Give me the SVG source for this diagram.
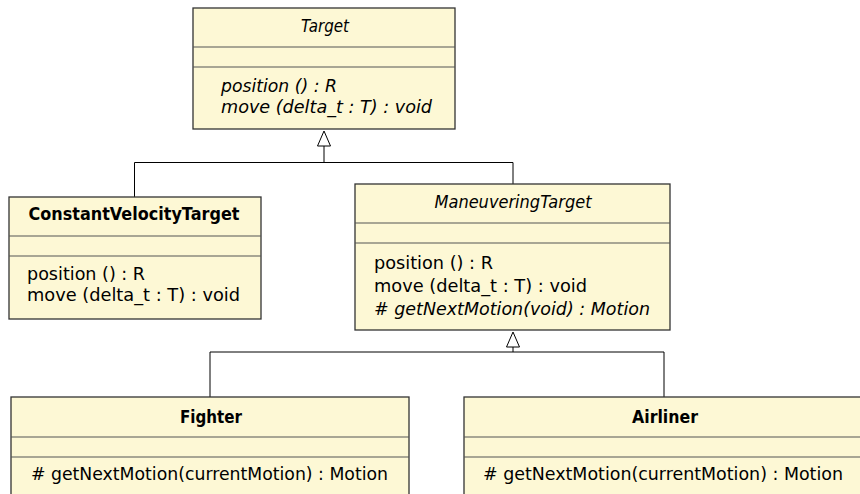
<svg xmlns="http://www.w3.org/2000/svg" width="860" height="494" viewBox="0 0 860 494">
<style>
.box{fill:#fdf8d5;stroke:#333;stroke-width:1.3}
.div{stroke:#555;stroke-width:1.2}
.t{font-family:"DejaVu Sans","Liberation Sans",sans-serif;font-size:17.5px;fill:#000}
.b{font-weight:bold}
.i{font-style:italic}
.c{text-anchor:middle}
.conn{fill:none;stroke:#000;stroke-width:1}
.tri{fill:#fff;stroke:#000;stroke-width:1}
</style>
<rect width="860" height="494" fill="#fff"/>
<g id="connectors">
<path class="conn" d="M324,146V162.5M134.5,197V162.5H513V184"/>
<polygon class="tri" points="324,131 317.5,146 330.5,146"/>
<path class="conn" d="M513,347V352M210,397V352H664V397"/>
<polygon class="tri" points="513,332 506.5,347 519.5,347"/>
</g>
<g id="Target">
<rect class="box" x="193" y="8" width="262" height="121"/>
<line class="div" x1="193" y1="47" x2="455" y2="47"/>
<line class="div" x1="193" y1="67" x2="455" y2="67"/>
<text class="t i c" x="325" y="32" textLength="48" lengthAdjust="spacingAndGlyphs">Target</text>
<text class="t i" x="221" y="92" textLength="116" lengthAdjust="spacingAndGlyphs">position () : R</text>
<text class="t i" x="221" y="113" textLength="211" lengthAdjust="spacingAndGlyphs">move (delta_t : T) : void</text>
</g>
<g id="ConstantVelocityTarget">
<rect class="box" x="9" y="197" width="252" height="122"/>
<line class="div" x1="9" y1="236" x2="261" y2="236"/>
<line class="div" x1="9" y1="256" x2="261" y2="256"/>
<text class="t b c" x="134" y="220" textLength="211" lengthAdjust="spacingAndGlyphs">ConstantVelocityTarget</text>
<text class="t" x="27" y="280" textLength="118" lengthAdjust="spacingAndGlyphs">position () : R</text>
<text class="t" x="27" y="301" textLength="213" lengthAdjust="spacingAndGlyphs">move (delta_t : T) : void</text>
</g>
<g id="ManeuveringTarget">
<rect class="box" x="355" y="184" width="315" height="146"/>
<line class="div" x1="355" y1="223" x2="670" y2="223"/>
<line class="div" x1="355" y1="243" x2="670" y2="243"/>
<text class="t i c" x="513" y="208" textLength="157" lengthAdjust="spacingAndGlyphs">ManeuveringTarget</text>
<text class="t" x="374" y="269" textLength="119" lengthAdjust="spacingAndGlyphs">position () : R</text>
<text class="t" x="374" y="292" textLength="213" lengthAdjust="spacingAndGlyphs">move (delta_t : T) : void</text>
<text class="t i" x="374" y="315" textLength="276" lengthAdjust="spacingAndGlyphs"># getNextMotion(void) : Motion</text>
</g>
<g id="Fighter">
<rect class="box" x="11" y="397" width="398" height="110"/>
<line class="div" x1="11" y1="437" x2="409" y2="437"/>
<line class="div" x1="11" y1="457" x2="409" y2="457"/>
<text class="t b c" x="211" y="423" textLength="62" lengthAdjust="spacingAndGlyphs">Fighter</text>
<text class="t" x="31" y="480" textLength="357" lengthAdjust="spacingAndGlyphs"># getNextMotion(currentMotion) : Motion</text>
</g>
<g id="Airliner">
<rect class="box" x="464" y="397" width="398" height="110"/>
<line class="div" x1="464" y1="437" x2="862" y2="437"/>
<line class="div" x1="464" y1="457" x2="862" y2="457"/>
<text class="t b c" x="665" y="423" textLength="66" lengthAdjust="spacingAndGlyphs">Airliner</text>
<text class="t" x="483" y="480" textLength="360" lengthAdjust="spacingAndGlyphs"># getNextMotion(currentMotion) : Motion</text>
</g>
</svg>
